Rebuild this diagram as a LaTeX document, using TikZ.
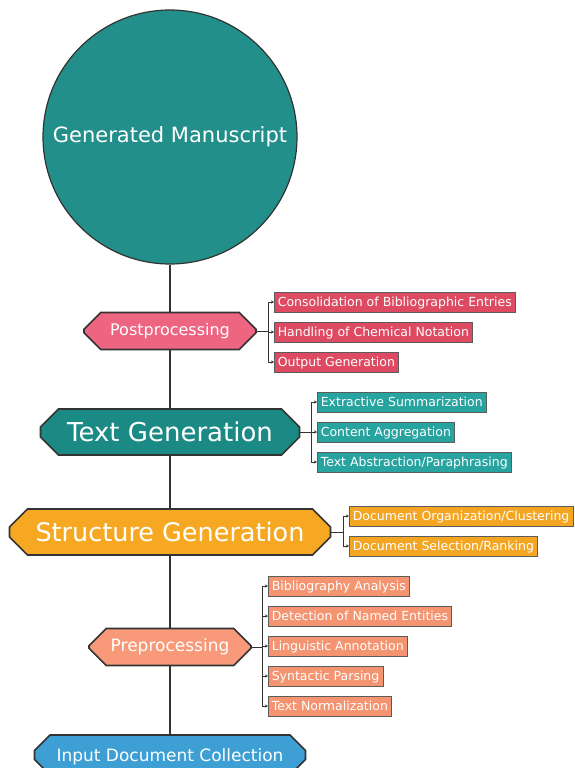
\documentclass[tikz,border=0pt]{standalone}
\usepackage{fontspec}
\setmainfont{DejaVu Sans}
\usetikzlibrary{shapes.misc,arrows.meta}
\definecolor{cteal}{HTML}{238F8B}
\definecolor{tealA}{HTML}{1B8984}
\definecolor{tealB}{HTML}{27A3A0}
\definecolor{pinkA}{HTML}{EE6582}
\definecolor{pinkB}{HTML}{DD4A61}
\definecolor{orgA}{HTML}{F6A823}
\definecolor{orgB}{HTML}{F4A521}
\definecolor{salA}{HTML}{F89A7A}
\definecolor{salB}{HTML}{F59470}
\definecolor{blueA}{HTML}{3D9FD3}
\definecolor{edge}{HTML}{333333}
\tikzset{
  stage/.style={chamfered rectangle, chamfered rectangle xsep=9pt, chamfered rectangle ysep=9pt,
    draw=edge, line width=1.6pt, text=white, inner sep=0pt},
  leaf/.style={rectangle, draw=edge!80, line width=0.6pt, text=white, anchor=west,
    minimum height=20pt, inner xsep=3.5pt, inner ysep=0pt, text depth=0.5pt, font=\fontsize{12.5}{14}\selectfont},
  trunk/.style={draw=edge, line width=1.8pt},
  branch/.style={draw=edge, line width=0.8pt, -{Stealth[length=3pt,width=3pt]}},
  stub/.style={draw=edge, line width=0.8pt}
}
\begin{document}
\begin{tikzpicture}[x=1pt,y=-1pt]
\useasboundingbox (0,0) rectangle (574,768);
\begin{scope}
\clip (0,0) rectangle (574,768);
% root
\node[circle, draw=edge, line width=1.2pt, fill=cteal, text=white, minimum size=254pt, inner sep=0pt,
  font=\fontsize{21}{24}\selectfont] (gm) at (170,137) {Generated Manuscript};
% stages
\node[stage, fill=pinkA, minimum width=172pt, minimum height=37pt, font=\fontsize{16}{19}\selectfont] (pp) at (170,331) {Postprocessing};
\node[stage, fill=tealA, minimum width=259pt, minimum height=46pt, font=\fontsize{26}{29}\selectfont] (tg) at (170,432) {Text Generation};
\node[stage, fill=orgA, minimum width=321pt, minimum height=46pt, font=\fontsize{25.5}{28}\selectfont] (sg) at (170,532) {Structure Generation};
\node[stage, fill=salA, minimum width=162pt, minimum height=37pt, font=\fontsize{17}{20}\selectfont] (pre) at (170,647) {Preprocessing};
\node[stage, fill=blueA, minimum width=271pt, minimum height=40pt, font=\fontsize{17}{20}\selectfont, text depth=0pt] (inp) at (170,755) {Input Document Collection};
% trunk
\draw[trunk] (gm.south) -- (pp.north);
\draw[trunk] (pp.south) -- (tg.north);
\draw[trunk] (tg.south) -- (sg.north);
\draw[trunk] (sg.south) -- (pre.north);
\draw[trunk] (pre.south) -- (inp.north);
% postprocessing leaves
\node[leaf, fill=pinkB] (p1) at (274,302) {Consolidation of Bibliographic Entries};
\node[leaf, fill=pinkB] (p2) at (274,332) {Handling of Chemical Notation};
\node[leaf, fill=pinkB] (p3) at (274,362) {Output Generation};
\coordinate (pj) at (268,331);
\draw[stub] (pp.east) -- (pj);
\foreach \c in {p1,p2,p3} \draw[branch] (pj) |- (\c.west);
% text generation leaves
\node[leaf, fill=tealB] (t1) at (317,402) {Extractive Summarization};
\node[leaf, fill=tealB] (t2) at (317,432) {Content Aggregation};
\node[leaf, fill=tealB] (t3) at (317,462) {Text Abstraction/Paraphrasing};
\coordinate (tj) at (311,432);
\draw[stub] (tg.east) -- (tj);
\foreach \c in {t1,t2,t3} \draw[branch] (tj) |- (\c.west);
% structure generation leaves
\node[leaf, fill=orgB] (s1) at (349,516) {Document Organization/Clustering};
\node[leaf, fill=orgB] (s2) at (349,546) {Document Selection/Ranking};
\coordinate (sj) at (343,532);
\draw[stub] (sg.east) -- (sj);
\foreach \c in {s1,s2} \draw[branch] (sj) |- (\c.west);
% preprocessing leaves
\node[leaf, fill=salB] (r1) at (268,586) {Bibliography Analysis};
\node[leaf, fill=salB] (r2) at (268,616) {Detection of Named Entities};
\node[leaf, fill=salB] (r3) at (268,646) {Linguistic Annotation};
\node[leaf, fill=salB] (r4) at (268,676) {Syntactic Parsing};
\node[leaf, fill=salB] (r5) at (268,706) {Text Normalization};
\coordinate (rj) at (262,647);
\draw[stub] (pre.east) -- (rj);
\foreach \c in {r1,r2,r3,r4,r5} \draw[branch] (rj) |- (\c.west);
\end{scope}
\end{tikzpicture}
\end{document}
